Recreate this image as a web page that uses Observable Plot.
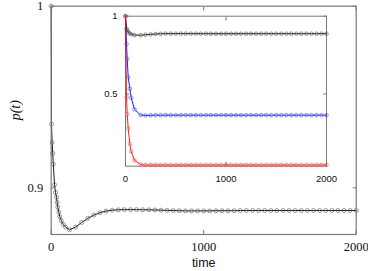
<!DOCTYPE html>
<html><head><meta charset="utf-8">
<script src="https://cdn.jsdelivr.net/npm/d3@7"></script>
<script src="https://cdn.jsdelivr.net/npm/@observablehq/plot@0.6"></script>
<style>
body{margin:0;background:#fff}
#wrap{position:relative;width:368px;height:271px}
#wrap svg{position:absolute;left:0;top:0}
</style>
</head><body><div id="wrap"></div>
<script>
// main panel: black series p(t)
const mainTime = [0, 2, 6, 10, 14, 22, 28, 35, 39, 43, 50, 56, 66, 79, 94, 120, 160, 200, 240, 280, 320, 360, 400, 440, 480, 520, 560, 600, 640, 680, 720, 760, 800, 840, 880, 920, 960, 1000, 1040, 1080, 1120, 1160, 1200, 1240, 1280, 1320, 1360, 1400, 1440, 1480, 1520, 1560, 1600, 1640, 1680, 1720, 1760, 1800, 1840, 1880, 1920, 1960, 2000];
const mainP = [1.0, 0.935, 0.925, 0.919, 0.913, 0.9017, 0.8975, 0.8947, 0.892, 0.8893, 0.8866, 0.8842, 0.882, 0.8799, 0.8784, 0.8769, 0.8784, 0.8809, 0.8832, 0.885, 0.8863, 0.8872, 0.8877, 0.8879, 0.888, 0.888, 0.888, 0.8879, 0.8879, 0.8878, 0.8877, 0.8876, 0.8875, 0.8874, 0.8873, 0.8873, 0.8873, 0.8873, 0.8873, 0.8874, 0.8874, 0.8874, 0.8874, 0.8875, 0.8875, 0.8875, 0.8875, 0.8875, 0.8875, 0.8875, 0.8875, 0.8875, 0.8875, 0.8875, 0.8875, 0.8875, 0.8875, 0.8875, 0.8875, 0.8875, 0.8875, 0.8875, 0.8875];
const mainXTicks = [0, 1000, 2000];
const mainYTicks = [0.9, 1];

// inset panel: three series
const insetTime = [0, 10, 17, 27, 43, 57, 90, 150, 200, 250, 300, 350, 400, 450, 500, 550, 600, 650, 700, 750, 800, 850, 900, 950, 1000, 1050, 1100, 1150, 1200, 1250, 1300, 1350, 1400, 1450, 1500, 1550, 1600, 1650, 1700, 1750, 1800, 1850, 1900, 1950, 2000];
const insetBlack = [1.0, 0.919, 0.909, 0.898, 0.889, 0.884, 0.8787, 0.878, 0.881, 0.8834, 0.8856, 0.887, 0.8877, 0.8879, 0.888, 0.888, 0.8879, 0.8878, 0.8877, 0.8876, 0.8875, 0.8874, 0.8873, 0.8873, 0.8873, 0.8873, 0.8874, 0.8874, 0.8874, 0.8875, 0.8875, 0.8875, 0.8875, 0.8875, 0.8875, 0.8875, 0.8875, 0.8875, 0.8875, 0.8875, 0.8875, 0.8875, 0.8875, 0.8875, 0.8875];
const insetBlue = [1.0, 0.82, 0.726, 0.608, 0.534, 0.476, 0.401, 0.365, 0.362, 0.363, 0.364, 0.364, 0.364, 0.364, 0.364, 0.364, 0.364, 0.364, 0.364, 0.364, 0.364, 0.364, 0.364, 0.364, 0.364, 0.364, 0.364, 0.364, 0.364, 0.364, 0.364, 0.364, 0.364, 0.364, 0.364, 0.364, 0.364, 0.364, 0.364, 0.364, 0.364, 0.364, 0.364, 0.364, 0.364];
const insetRed = [1.0, 0.479, 0.37, 0.28, 0.18, 0.13, 0.073, 0.047, 0.044, 0.044, 0.044, 0.044, 0.044, 0.044, 0.044, 0.044, 0.044, 0.044, 0.044, 0.044, 0.044, 0.044, 0.044, 0.044, 0.044, 0.044, 0.044, 0.044, 0.044, 0.044, 0.044, 0.044, 0.044, 0.044, 0.044, 0.044, 0.044, 0.044, 0.044, 0.044, 0.044, 0.044, 0.044, 0.044, 0.044];
const insetXTicks = [0, 1000, 2000];
const insetYTicks = [0.5, 1];

const mainData = mainTime.map((t, i) => ({t, p: mainP[i]}));
const mk = (vals, s) => insetTime.map((t, i) => ({t, p: vals[i], s}));
const insetSeries = [
  {name: "black", data: mk(insetBlack, "black"), line: "#000", dot: "#555"},
  {name: "blue", data: mk(insetBlue, "blue"), line: "#0000ff", dot: "#4a4aff"},
  {name: "red", data: mk(insetRed, "red"), line: "#ff0000", dot: "#ff4a4a"}
];

const serif = "'Liberation Serif', serif";
const sans = "'Liberation Sans', Arial, sans-serif";
const frameC = "#7a7a7a";

const main = Plot.plot({
  width: 368, height: 271,
  marginLeft: 50.7, marginRight: 12.3, marginTop: 5.7, marginBottom: 37,
  style: {background: "transparent", overflow: "visible"},
  x: {domain: [0, 2000]},
  y: {domain: [0.8743, 1]},
  marks: [
    Plot.line(mainData, {x: "t", y: "p", stroke: "#000", strokeWidth: 0.9}),
    Plot.dot(mainData, {x: "t", y: "p", r: 2, stroke: "#555", strokeWidth: 0.6, fill: "none"}),
    Plot.frame({stroke: frameC, strokeWidth: 1.2}),
    Plot.axisX(mainXTicks, {anchor: "bottom", tickSize: -4, tickPadding: 12, label: null, stroke: frameC, fill: "#111", fontFamily: serif, fontSize: 12.5, tickFormat: d => String(d)}),
    Plot.axisX(mainXTicks, {anchor: "top", tickSize: -4, label: null, stroke: frameC, tickFormat: () => ""}),
    Plot.axisY(mainYTicks, {anchor: "left", tickSize: -4, tickPadding: 12, label: null, stroke: frameC, fill: "#111", fontFamily: serif, fontSize: 12.5, tickFormat: d => String(d)}),
    Plot.axisY(mainYTicks, {anchor: "right", tickSize: -4, label: null, stroke: frameC, tickFormat: () => ""}),
    Plot.text(["time"], {frameAnchor: "bottom", dy: 32.5, fontFamily: sans, fontSize: 12.5, fill: "#111"}),
    Plot.text(["p(t)"], {frameAnchor: "left", dx: -36, rotate: -90, fontFamily: serif, fontStyle: "italic", fontSize: 14, fill: "#111"})
  ]
});

const insetMarks = [
  Plot.frame({stroke: frameC}),
  Plot.axisX(insetXTicks, {anchor: "bottom", tickSize: -4, tickPadding: 13, label: null, stroke: frameC, fill: "#111", fontFamily: sans, fontSize: 9.5, tickFormat: d => String(d)}),
  Plot.axisX(insetXTicks, {anchor: "top", tickSize: -4, label: null, stroke: frameC, tickFormat: () => ""}),
  Plot.axisY(insetYTicks, {anchor: "left", tickSize: -4, tickPadding: 12, label: null, stroke: frameC, fill: "#111", fontFamily: sans, fontSize: 9.5, tickFormat: d => String(d)}),
  Plot.axisY(insetYTicks, {anchor: "right", tickSize: -4, label: null, stroke: frameC, tickFormat: () => ""})
];
for (const s of insetSeries) {
  insetMarks.push(Plot.line(s.data, {x: "t", y: "p", stroke: s.line, strokeWidth: 0.9}));
  insetMarks.push(Plot.dot(s.data, {x: "t", y: "p", r: 1.8, stroke: s.dot, strokeWidth: 0.6, fill: "none"}));
}

const inset = Plot.plot({
  width: 368, height: 271,
  marginLeft: 125, marginRight: 42, marginTop: 15.7, marginBottom: 105.3,
  style: {background: "transparent", overflow: "visible"},
  x: {domain: [0, 2000]},
  y: {domain: [0.036, 1]},
  marks: insetMarks
});

const wrap = document.getElementById("wrap");
wrap.appendChild(main);
wrap.appendChild(inset);
</script>
</body></html>
